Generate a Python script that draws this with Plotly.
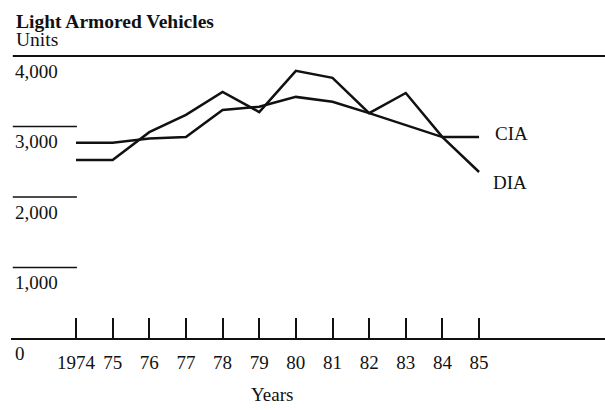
import plotly.graph_objects as go

# ---- data ----
years = [1974, 1975, 1976, 1977, 1978, 1979, 1980, 1981, 1982, 1983, 1984, 1985]
year_labels = ["1974", "75", "76", "77", "78", "79", "80", "81", "82", "83", "84", "85"]
cia = [2770, 2770, 2830, 2850, 3235, 3280, 3420, 3350, 3190, 3020, 2850, 2850]
dia = [2525, 2525, 2920, 3165, 3490, 3205, 3790, 3690, 3190, 3475, 2850, 2355]
y_ticks = [0, 1000, 2000, 3000, 4000]
y_tick_labels = ["0", "1,000", "2,000", "3,000", "4,000"]
series_names = ["CIA", "DIA"]
title_text = "Light Armored Vehicles"
unit_text = "Units"
x_title = "Years"

FONT = "Liberation Serif"
INK = "#111111"

fig = go.Figure()
for name, vals in zip(series_names, [cia, dia]):
    fig.add_trace(go.Scatter(x=years, y=vals, mode="lines", name=name,
                             line=dict(color=INK, width=2.5), showlegend=False,
                             hoverinfo="skip"))

annotations = []
# direct line labels
annotations.append(dict(x=years[-1], y=cia[-1], xref="x", yref="y", text=series_names[0],
                        showarrow=False, xanchor="left", yanchor="middle",
                        xshift=14, yshift=4, font=dict(family=FONT, size=19, color=INK)))
annotations.append(dict(x=years[-1], y=dia[-1], xref="x", yref="y", text=series_names[1],
                        showarrow=False, xanchor="left", yanchor="middle",
                        xshift=12, yshift=-11, font=dict(family=FONT, size=19, color=INK)))
# y tick labels below their rules
for v, lab in zip(y_ticks, y_tick_labels):
    annotations.append(dict(x=0, y=v, xref="paper", yref="y", text=lab, showarrow=False,
                            xanchor="left", yanchor="middle", xshift=2, yshift=-15,
                            font=dict(family=FONT, size=19, color=INK)))
# titles
annotations.append(dict(x=0, y=1, xref="paper", yref="paper", text="<b>" + title_text + "</b>",
                        showarrow=False, xanchor="left", yanchor="middle", xshift=3, yshift=19,
                        font=dict(family=FONT, size=19.5, color=INK)))
annotations.append(dict(x=0, y=1, xref="paper", yref="paper", text=unit_text,
                        showarrow=False, xanchor="left", yanchor="middle", xshift=3, yshift=1,
                        font=dict(family=FONT, size=19.5, color=INK)))
annotations.append(dict(x=(272 - 11) / 594, y=0, xref="paper", yref="paper", text=x_title,
                        showarrow=False, xanchor="center", yanchor="middle", yshift=-56,
                        font=dict(family=FONT, size=19, color=INK)))

shapes = []
for v in y_ticks[1:-1]:
    shapes.append(dict(type="line", xref="paper", yref="y", x0=0.003, x1=0.111, y0=v, y1=v,
                       line=dict(color=INK, width=1.5)))
shapes.append(dict(type="line", xref="paper", yref="y", x0=0.003, x1=1, y0=y_ticks[-1], y1=y_ticks[-1],
                   line=dict(color=INK, width=2)))

fig.update_layout(
    width=605, height=410,
    margin=dict(l=11, r=0, t=40, b=72),
    paper_bgcolor="white", plot_bgcolor="white",
    annotations=annotations, shapes=shapes,
    hovermode=False,
    xaxis=dict(range=[1972.226, 1988.437], tickmode="array", tickvals=years, ticktext=year_labels,
               ticks="inside", ticklen=20, tickwidth=2, tickcolor=INK,
               showline=True, linecolor=INK, linewidth=2, showgrid=False, zeroline=False,
               tickfont=dict(family=FONT, size=19, color=INK), ticklabelstandoff=6),
    yaxis=dict(range=[0, 4227], showticklabels=False, showgrid=False, zeroline=False,
               showline=False, ticks=""),
)

fig.write_html("out.html", config={"displayModeBar": False},
               post_script="document.body.style.margin='0px';")
